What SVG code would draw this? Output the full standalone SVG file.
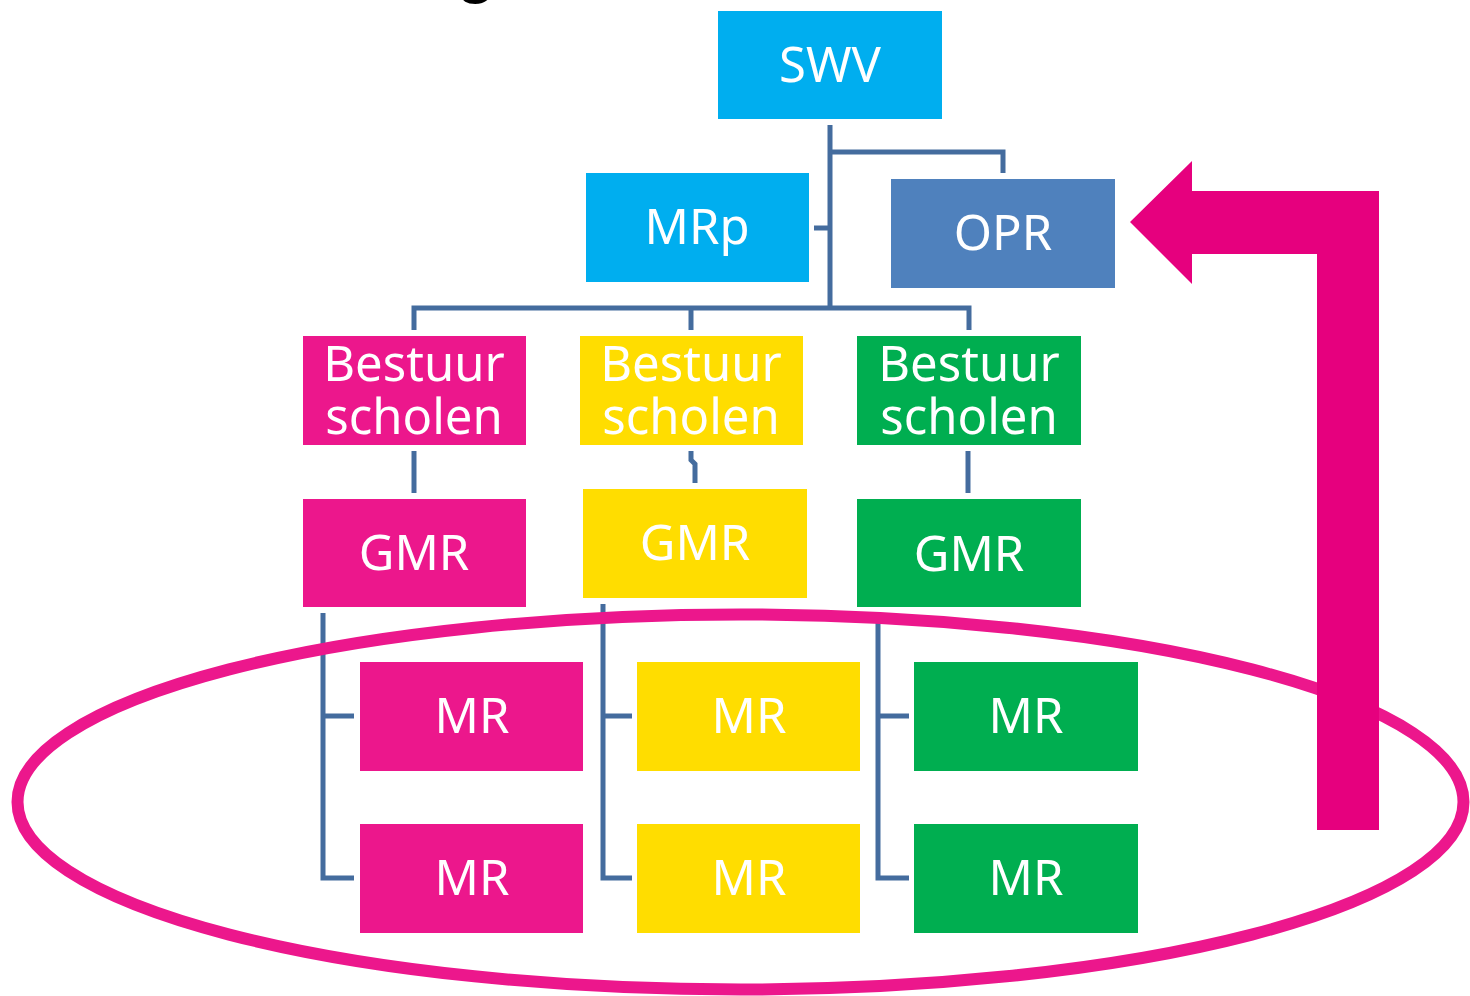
<svg xmlns="http://www.w3.org/2000/svg" width="1470" height="996" viewBox="0 0 1470 996">
<style>
.box{stroke:none}
.lbl{font-family:"Noto Sans","Open Sans","Liberation Sans",sans-serif;font-size:49px;fill:#ffffff;text-anchor:middle}
.con{fill:none;stroke:#446C9E;stroke-width:5;stroke-linejoin:miter;stroke-linecap:butt}
.blue{fill:#00AEEF}.opr{fill:#4F81BD}.pink{fill:#EC178C}.yellow{fill:#FFDD00}.green{fill:#00AE50}
</style>
<rect width="1470" height="996" fill="#ffffff"/>
<text x="476" y="-9" font-family="Liberation Sans, sans-serif" font-weight="bold" font-size="64" fill="#000000" text-anchor="middle">g</text>
<g id="connectors">
<path class="con" d="M830,125 V308"/>
<path class="con" d="M830,152 H1003 V173"/>
<path class="con" d="M814,228 H830"/>
<path class="con" d="M414,330 V308 H969 V330"/>
<path class="con" d="M691,308 V330"/>
<path class="con" d="M414,451 V493"/>
<path class="con" d="M691,451 V460 L695,464 V483"/>
<path class="con" d="M968,451 V493"/>
<path class="con" d="M354,716 H323 M323,613 V878 H354"/>
<path class="con" d="M632,716 H603 M603,604 V878 H632"/>
<path class="con" d="M909,716 H878 M878,620 V878 H909"/>
</g>
<g id="n-swv"><rect class="box blue" x="718" y="11" width="224" height="108"/><text class="lbl" x="830" y="82">SWV</text></g>
<g id="n-mrp"><rect class="box blue" x="586" y="173" width="223" height="109"/><text class="lbl" x="697" y="244">MRp</text></g>
<g id="n-opr"><rect class="box opr" x="891" y="179" width="224" height="109"/><text class="lbl" x="1003" y="250">OPR</text></g>
<g id="n-bestuur1"><rect class="box pink" x="303" y="336" width="223" height="109"/><text class="lbl" x="414" y="381">Bestuur<tspan x="414" dy="53">scholen</tspan></text></g>
<g id="n-bestuur2"><rect class="box yellow" x="580" y="336" width="223" height="109"/><text class="lbl" x="691" y="381">Bestuur<tspan x="691" dy="53">scholen</tspan></text></g>
<g id="n-bestuur3"><rect class="box green" x="857" y="336" width="224" height="109"/><text class="lbl" x="969" y="381">Bestuur<tspan x="969" dy="53">scholen</tspan></text></g>
<g id="n-gmr1"><rect class="box pink" x="303" y="499" width="223" height="108"/><text class="lbl" x="414" y="570">GMR</text></g>
<g id="n-gmr2"><rect class="box yellow" x="583" y="489" width="224" height="109"/><text class="lbl" x="695" y="560">GMR</text></g>
<g id="n-gmr3"><rect class="box green" x="857" y="499" width="224" height="108"/><text class="lbl" x="969" y="571">GMR</text></g>
<g id="n-mr1a"><rect class="box pink" x="360" y="662" width="223" height="109"/><text class="lbl" x="472" y="733">MR</text></g>
<g id="n-mr1b"><rect class="box pink" x="360" y="824" width="223" height="109"/><text class="lbl" x="472" y="895">MR</text></g>
<g id="n-mr2a"><rect class="box yellow" x="637" y="662" width="223" height="109"/><text class="lbl" x="749" y="733">MR</text></g>
<g id="n-mr2b"><rect class="box yellow" x="637" y="824" width="223" height="109"/><text class="lbl" x="749" y="895">MR</text></g>
<g id="n-mr3a"><rect class="box green" x="914" y="662" width="224" height="109"/><text class="lbl" x="1026" y="733">MR</text></g>
<g id="n-mr3b"><rect class="box green" x="914" y="824" width="224" height="109"/><text class="lbl" x="1026" y="895">MR</text></g>
<ellipse cx="740.5" cy="802" rx="723" ry="187.5" fill="none" stroke="#EC178C" stroke-width="12"/>
<polygon points="1130,222 1192,161 1192,191 1379,191 1379,830 1317,830 1317,254 1192,254 1192,284" fill="#E6007E"/>
</svg>
